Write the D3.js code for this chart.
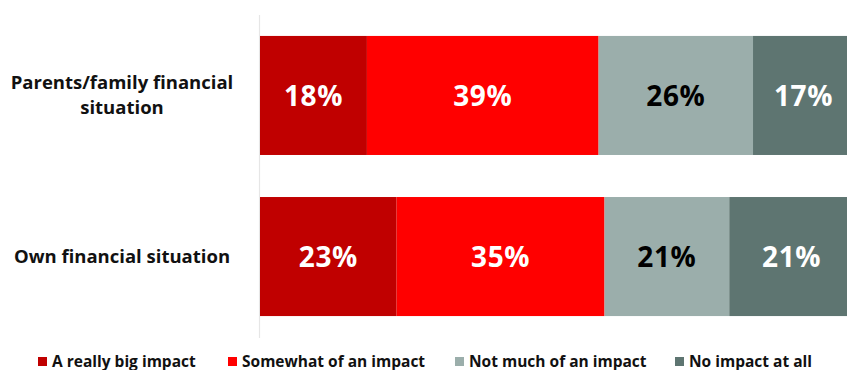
<!DOCTYPE html>
<html>
<head>
<meta charset="utf-8">
<script src="https://cdn.jsdelivr.net/npm/d3@7"></script>
<style>
  html, body { margin: 0; padding: 0; background: #fff; }
  svg { display: block; font-family: "Open Sans", Lato, sans-serif; font-weight: 700; }
</style>
</head>
<body>
<svg id="chart" width="847" height="370"></svg>
<script>
// Share of respondents by level of impact
const categories = [["Parents/family financial", "situation"], ["Own financial situation"]];
const seriesNames = ["A really big impact", "Somewhat of an impact", "Not much of an impact", "No impact at all"];
const seriesColors = ["#C00000", "#FF0000", "#9BAEAB", "#5E7571"];
const labelColors = ["#fff", "#fff", "#000", "#fff"];
const parentsValues = [18, 39, 26, 17];
const ownValues = [23, 35, 21, 21];
const rows = [parentsValues, ownValues];

const svg = d3.select("#chart");
const keys = categories.map(c => c.join(" "));

const x = d3.scaleLinear().domain([0, 100]).range([260, 854]);
const y = d3.scaleBand().domain(keys).range([15, 337]).paddingInner(0.261).paddingOuter(0.13);

// vertical axis line
svg.append("line")
  .attr("x1", 259.5).attr("x2", 259.5)
  .attr("y1", 15).attr("y2", 338)
  .attr("stroke", "#e6e6e6").attr("stroke-width", 1.2);

rows.forEach((vals, ri) => {
  let acc = 0;
  const segs = vals.map((v, i) => { const s = { i, v, x0: acc, x1: acc + v }; acc += v; return s; });
  const g = svg.append("g");
  g.selectAll("rect").data(segs).enter().append("rect")
    .attr("x", d => x(d.x0))
    .attr("width", d => x(d.x1) - x(d.x0))
    .attr("y", y(keys[ri]))
    .attr("height", y.bandwidth())
    .attr("fill", d => seriesColors[d.i]);
  g.selectAll("text").data(segs).enter().append("text")
    .attr("x", d => (x(d.x0) + x(d.x1)) / 2)
    .attr("y", y(keys[ri]) + y.bandwidth() / 2)
    .attr("dy", "0.36em")
    .attr("text-anchor", "middle")
    .attr("font-size", 28)
    .attr("letter-spacing", 0.6)
    .attr("fill", d => labelColors[d.i])
    .text(d => d.v + "%");
});

// category labels
categories.forEach((lines, ri) => {
  const cy = y(keys[ri]) + y.bandwidth() / 2;
  const lh = 25;
  const t = svg.append("text")
    .attr("text-anchor", "middle")
    .attr("font-size", 18.5)
    .attr("fill", "#111");
  lines.forEach((ln, li) => {
    t.append("tspan")
      .attr("x", 122)
      .attr("y", cy + (li - (lines.length - 1) / 2) * lh)
      .attr("dy", "0.35em")
      .text(ln);
  });
});

// legend
const legendX = [38, 228, 455, 675];
const lg = svg.append("g");
seriesNames.forEach((name, i) => {
  lg.append("rect")
    .attr("x", legendX[i]).attr("y", 357)
    .attr("width", 9).attr("height", 9)
    .attr("fill", seriesColors[i]);
  lg.append("text")
    .attr("x", legendX[i] + 14).attr("y", 366.5)
    .attr("font-size", 15.5)
    .attr("fill", "#111")
    .text(name);
});
</script>
</body>
</html>
